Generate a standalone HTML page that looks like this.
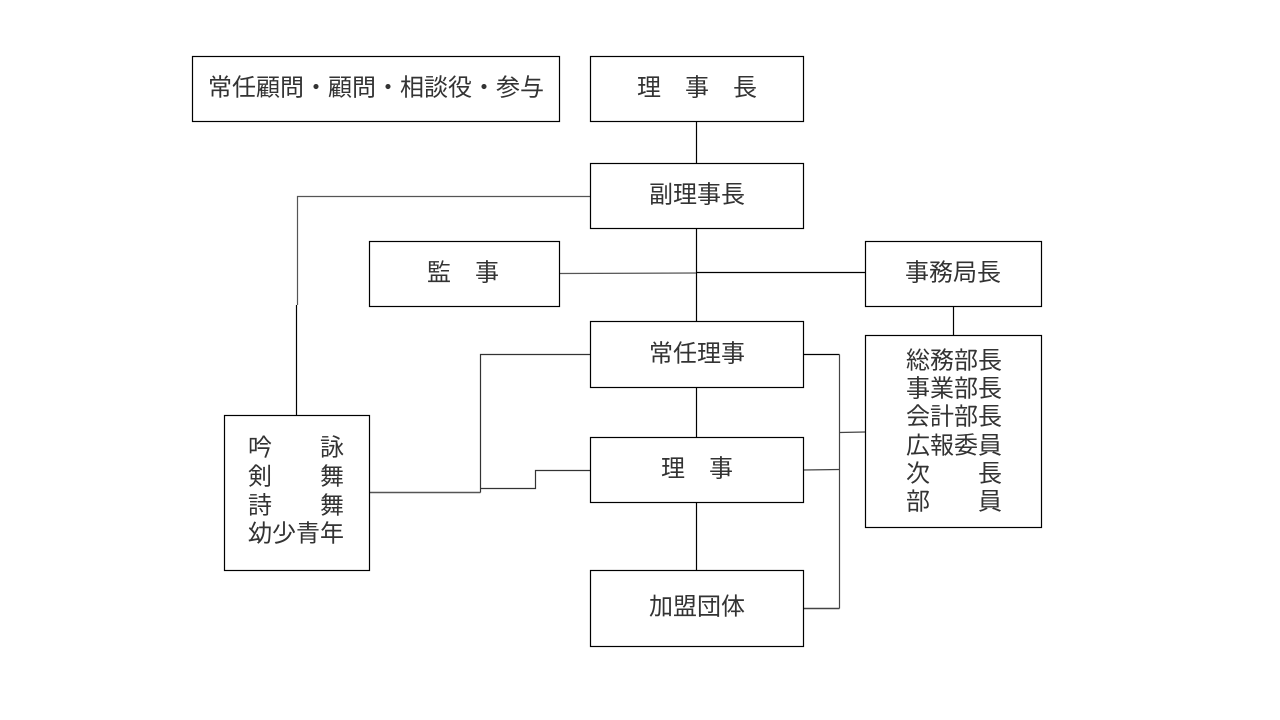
<!DOCTYPE html>
<html>
<head>
<meta charset="utf-8">
<style>
  html,body{margin:0;padding:0;background:#fff;}
  body{width:1280px;height:720px;overflow:hidden;}
  svg{display:block;}
  text{font-family:"Liberation Sans","Noto Sans CJK JP",sans-serif;font-size:24px;fill:#333;}
</style>
</head>
<body>
<svg width="1280" height="720" viewBox="0 0 1280 720" xmlns="http://www.w3.org/2000/svg">
  <rect x="0" y="0" width="1280" height="720" fill="#fff"/>
  <!-- connectors -->
  <g stroke="#000" stroke-width="1.2" fill="none">
    <line x1="696.5" y1="121" x2="696.5" y2="163"/>
    <line x1="696.5" y1="228" x2="696.5" y2="321"/>
    <line x1="696.5" y1="387" x2="696.5" y2="437"/>
    <line x1="696.5" y1="502" x2="696.5" y2="570"/>
    <polyline points="590,196.5 297.5,196.5 297.5,305" stroke="#555"/>
    <line x1="296.5" y1="305" x2="296.5" y2="415"/>
    <polyline points="559,273.5 696,273" stroke="#555"/>
    <line x1="696" y1="272.5" x2="865" y2="272.5"/>
    <line x1="953.5" y1="306" x2="953.5" y2="335"/>
    <polyline points="369,492.5 480.5,492.5" stroke="#555" stroke-width="1.6"/>
    <polyline points="480.5,492.5 480.5,354.5 590,354.5" stroke="#333"/>
    <polyline points="480.5,488.5 535.5,488.5 535.5,470.5 590,470.5" stroke="#333"/>
    <line x1="803" y1="354.5" x2="839.5" y2="354.5"/>
    <line x1="839.5" y1="354.5" x2="839.5" y2="608.5" stroke="#444"/>
    <line x1="803" y1="470" x2="839.5" y2="469.5" stroke="#444"/>
    <line x1="803" y1="608.5" x2="839.5" y2="608.5" stroke="#444" stroke-width="1.5"/>
    <line x1="839.5" y1="432.5" x2="865" y2="432" stroke="#444"/>
  </g>
  <!-- boxes -->
  <g stroke="#000" stroke-width="1.2" fill="#fff">
    <rect x="192.5" y="56.5" width="367" height="65"/>
    <rect x="590.5" y="56.5" width="213" height="65"/>
    <rect x="590.5" y="163.5" width="213" height="65"/>
    <rect x="369.5" y="241.5" width="190" height="65"/>
    <rect x="865.5" y="241.5" width="176" height="65"/>
    <rect x="590.5" y="321.5" width="213" height="66"/>
    <rect x="865.5" y="335.5" width="176" height="192"/>
    <rect x="590.5" y="437.5" width="213" height="65"/>
    <rect x="590.5" y="570.5" width="213" height="76"/>
    <rect x="224.5" y="415.5" width="145" height="155"/>
  </g>
  <!-- labels -->
  <g text-anchor="middle" dominant-baseline="central">
    <text x="376" y="88">常任顧問・顧問・相談役・参与</text>
    <text x="697" y="88">理　事　長</text>
    <text x="697" y="195">副理事長</text>
    <text x="463" y="273">監　事</text>
    <text x="953" y="273">事務局長</text>
    <text x="697" y="354">常任理事</text>
    <text x="697" y="469">理　事</text>
    <text x="697" y="607">加盟団体</text>
  </g>
  <g text-anchor="start" dominant-baseline="central">
    <text x="906" y="361">総務部長</text>
    <text x="906" y="389">事業部長</text>
    <text x="906" y="417">会計部長</text>
    <text x="906" y="446">広報委員</text>
    <text x="906" y="474">次　　長</text>
    <text x="906" y="502">部　　員</text>
    <text x="248" y="448">吟　　詠</text>
    <text x="248" y="477">剣　　舞</text>
    <text x="248" y="506">詩　　舞</text>
    <text x="248" y="534">幼少青年</text>
  </g>
</svg>
</body>
</html>
